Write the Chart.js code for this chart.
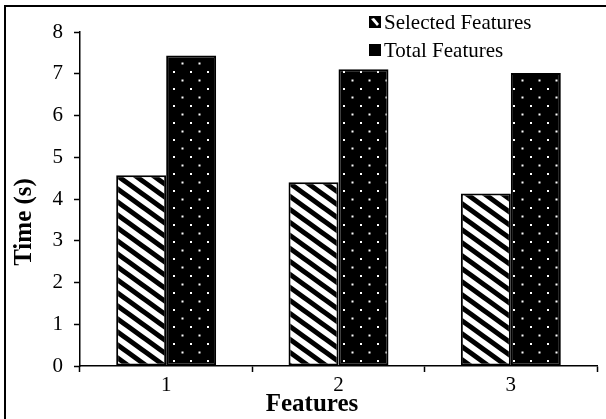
<!DOCTYPE html>
<html>
<head>
<meta charset="utf-8">
<script src="https://cdn.jsdelivr.net/npm/chart.js@4.4.1/dist/chart.umd.min.js"></script>
<style>
  html, body { margin: 0; padding: 0; background: #fff; }
  #wrap { width: 606px; height: 419px; position: relative; }
</style>
</head>
<body>
<div id="wrap"><canvas id="c" width="606" height="419"></canvas></div>
<script>
// Data
const categories = ['1', '2', '3'];
const selectedFeatures = [4.57, 4.40, 4.13];
const totalFeatures = [7.44, 7.11, 7.02];
const seriesNames = ['Selected Features', 'Total Features'];
const yTicks = [0, 1, 2, 3, 4, 5, 6, 7, 8];
const xTitle = 'Features';
const yTitle = 'Time (s)';

const SERIF = '"Liberation Serif", "Times New Roman", serif';

// Diagonal "\" hatch: black bands on white
function hatchPattern() {
  const W = 18, H = 13;
  const t = document.createElement('canvas');
  t.width = W; t.height = H;
  const g = t.getContext('2d');
  g.fillStyle = '#fff';
  g.fillRect(0, 0, W, H);
  g.strokeStyle = '#000';
  g.lineWidth = 5;
  for (const dy of [-H, 0, H]) {
    g.beginPath();
    g.moveTo(-W, -H + dy);
    g.lineTo(2 * W, 2 * H + dy);
    g.stroke();
  }
  return g.createPattern(t, 'repeat');
}

// Staggered white dots on black
function dotPattern() {
  const S = 17;
  const t = document.createElement('canvas');
  t.width = S; t.height = S;
  const g = t.getContext('2d');
  g.fillStyle = '#000';
  g.fillRect(0, 0, S, S);
  g.fillStyle = '#fff';
  g.fillRect(3, 3, 2, 2);
  g.fillRect(11.5, 11.5, 2, 2);
  return g.createPattern(t, 'repeat');
}

const ctx0 = document.getElementById('c').getContext('2d');
const hatch = hatchPattern();
const dots = dotPattern();

// Frame lines along the top and left edges
const framePlugin = {
  id: 'frame',
  afterDraw(chart) {
    const g = chart.ctx;
    g.save();
    g.fillStyle = '#000';
    g.fillRect(5, 5, 601, 2);
    g.fillRect(4, 5, 2, 414);
    g.restore();
  }
};

// Axis titles
const titlesPlugin = {
  id: 'axisTitles',
  afterDraw(chart) {
    const g = chart.ctx;
    g.save();
    g.fillStyle = '#000';
    g.font = 'bold 25px ' + SERIF;
    g.textAlign = 'center';
    g.textBaseline = 'middle';
    g.fillText(xTitle, 312, 405);
    g.translate(25, 222);
    g.rotate(-Math.PI / 2);
    g.fillText(yTitle, 0, 0);
    g.restore();
  }
};

// Two-row legend in the upper right
const legendPlugin = {
  id: 'stackLegend',
  afterDraw(chart) {
    const g = chart.ctx;
    g.save();
    g.font = '21px ' + SERIF;
    g.textBaseline = 'middle';
    g.textAlign = 'left';
    const rows = [22, 50];
    chart.data.datasets.forEach((ds, i) => {
      const y = rows[i];
      const bx = 369, by = y - 6, s = 12;
      g.fillStyle = '#000';
      g.fillRect(bx, by, s, s);
      if (i === 0) {
        g.fillStyle = '#fff';
        g.beginPath();
        g.moveTo(bx + 2, by + 3);
        g.lineTo(bx + 5, by + 2);
        g.lineTo(bx + 10, by + 8);
        g.lineTo(bx + 8, by + 10);
        g.closePath();
        g.fill();
      }
      g.fillStyle = '#000';
      g.fillText(ds.label, 384, y + 1);
    });
    g.restore();
  }
};

new Chart(ctx0, {
  type: 'bar',
  data: {
    labels: categories,
    datasets: [
      {
        label: seriesNames[0],
        data: selectedFeatures,
        backgroundColor: hatch,
        borderColor: '#000',
        borderWidth: 2,
        borderSkipped: false
      },
      {
        label: seriesNames[1],
        data: totalFeatures,
        backgroundColor: dots,
        borderColor: '#000',
        borderWidth: 2,
        borderSkipped: false
      }
    ]
  },
  options: {
    responsive: false,
    animation: false,
    devicePixelRatio: 1,
    layout: { padding: { top: 32, right: 9, left: 0, bottom: 0 } },
    datasets: { bar: { categoryPercentage: 0.58, barPercentage: 1.0 } },
    plugins: {
      legend: { display: false },
      tooltip: { enabled: false },
      title: { display: false }
    },
    scales: {
      x: {
        afterFit(s) { s.height = 53; },
        grid: {
          offset: true,
          drawOnChartArea: false,
          drawTicks: true,
          tickLength: 6,
          tickColor: '#000',
          tickWidth: 1.5
        },
        border: { display: true, color: '#000', width: 1.5 },
        ticks: {
          color: '#000',
          font: { family: SERIF, size: 21 },
          padding: 1
        }
      },
      y: {
        min: 0,
        max: 8,
        afterFit(s) { s.width = 80; },
        afterBuildTicks(s) { s.ticks = yTicks.map(v => ({ value: v })); },
        grid: {
          drawOnChartArea: false,
          drawTicks: true,
          tickLength: 6,
          tickColor: '#000',
          tickWidth: 1.5
        },
        border: { display: true, color: '#000', width: 1.5 },
        ticks: {
          color: '#000',
          font: { family: SERIF, size: 21 },
          padding: 11
        }
      }
    }
  },
  plugins: [framePlugin, titlesPlugin, legendPlugin]
});
</script>
</body>
</html>
